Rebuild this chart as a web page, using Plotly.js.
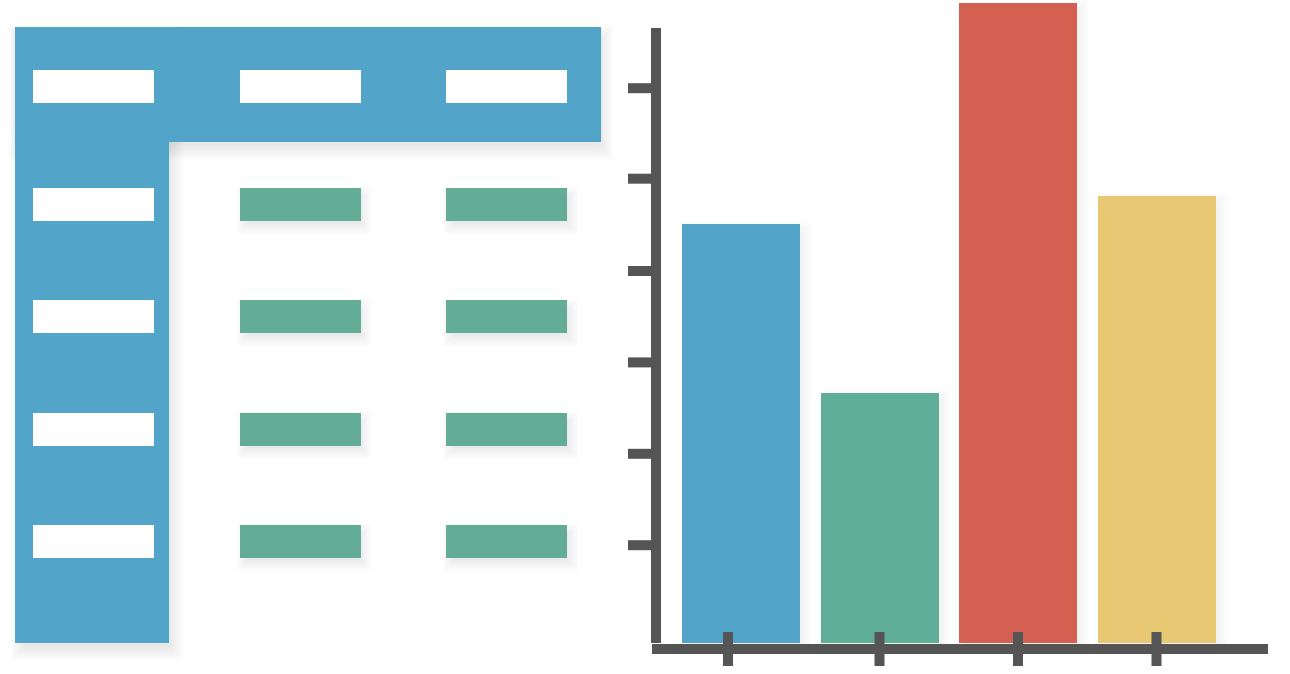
<!DOCTYPE html>
<html><head><meta charset="utf-8">
<script src="https://cdn.plot.ly/plotly-3.0.1.min.js"></script>
<style>html,body{margin:0;padding:0;background:#fff;overflow:hidden}#chart{width:1290px;height:674px}</style>
</head><body><div id="chart"></div>
<script>
// ---- bar chart data ----
const barPositions = [0, 1, 2, 3];
const barValues = [4.58, 2.74, 7.00, 4.89];
const barColors = ['#52A4C9', '#5FAE98', '#D36050', '#E8C872'];
const yTickVals = [1.07, 2.07, 3.07, 4.07, 5.08, 6.07];
const xTickVals = [-0.094, 1, 2, 3];
const yAxisTop = 6.73;

// ---- table icon data ----
const tableCols = [0, 1, 2];
const headerRow = -1.05;
const bodyRows = [0, 1, 2, 3];
const frameCols = [-0.380, 0.366, 2.458];   // left edge, left-column right edge, header right edge
const frameRows = [-1.580, -0.556, 3.904];  // top, header bottom, left-column bottom

const W = 1290, H = 674;
const BLUE = '#52A4C9', GREEN = '#63AD96', GRAY = '#555555';

// axis ranges
const xr = [-0.69314, 3.96390], yr = [-0.33917, 7.03501];
const x2r = [-0.45278, 2.67070], y2r = [4.17965, -1.82053];
const pxX  = v => 645 + (v - xr[0]) / (xr[1] - xr[0]) * 645;
const pyY  = v => H - (v - yr[0]) / (yr[1] - yr[0]) * H;
const pxX2 = v => (v - x2r[0]) / (x2r[1] - x2r[0]) * 645;
const pyY2 = v => H - (v - y2r[0]) / (y2r[1] - y2r[0]) * H;
const pX = p => p / W, pY = p => 1 - p / H;

const shapes = [];
function shadow(x0, y0, x1, y1, dx, dy, blur, alpha, n) {
  for (let i = 0; i < n; i++) {
    const e = -blur * 0.4 + blur * 1.2 * i / (n - 1);
    shapes.push({type: 'rect', layer: 'below', xref: 'paper', yref: 'paper',
      x0: pX(x0 + dx - e), x1: pX(x1 + dx + e), y0: pY(y0 + dy - e), y1: pY(y1 + dy + e),
      fillcolor: 'rgba(0,0,0,' + alpha + ')', line: {width: 0}});
  }
}
function block(c0, c1, r0, r1, color) {
  shapes.push({type: 'rect', layer: 'below', xref: 'x2', yref: 'y2',
    x0: c0, x1: c1, y0: r0, y1: r1, fillcolor: color, line: {width: 0}});
}

// header block + shadow
shadow(pxX2(frameCols[0]), pyY2(frameRows[0]), pxX2(frameCols[2]), pyY2(frameRows[1]), 3, 8, 12, 0.012, 8);
block(frameCols[0], frameCols[2], frameRows[0], frameRows[1], BLUE);
// left column + shadow
shadow(pxX2(frameCols[0]), pyY2(frameRows[0]), pxX2(frameCols[1]), pyY2(frameRows[2]), 5, 8, 12, 0.012, 8);
block(frameCols[0], frameCols[1], frameRows[0], frameRows[2], BLUE);

// cells
const cellWidth = 0.586, cellHeight = 0.294;
const whiteY = [], whiteBase = [], greenY = [], greenBase = [];
[headerRow].concat(bodyRows).forEach(r => { whiteY.push(r); whiteBase.push(tableCols[0] - cellWidth / 2); });
tableCols.slice(1).forEach(c => { whiteY.push(headerRow); whiteBase.push(c - cellWidth / 2); });
bodyRows.forEach(r => tableCols.slice(1).forEach(c => { greenY.push(r); greenBase.push(c - cellWidth / 2); }));
greenY.forEach((r, i) => {
  shadow(pxX2(greenBase[i]), pyY2(r - cellHeight / 2), pxX2(greenBase[i] + cellWidth), pyY2(r + cellHeight / 2), 4, 6, 9, 0.012, 7);
});

// bar shadows
const barWidth = 0.852;
barPositions.forEach((x, i) => {
  shadow(pxX(x - barWidth / 2), pyY(barValues[i]), pxX(x + barWidth / 2), pyY(0), 5, 4, 9, 0.008, 7);
});

// axes decorations
shapes.push({type: 'line', xref: 'paper', yref: 'y', x0: pX(656), x1: pX(656), y0: 0, y1: yAxisTop,
  line: {color: GRAY, width: 10}});
shapes.push({type: 'line', xref: 'paper', yref: 'paper', x0: pX(652), x1: pX(1268), y0: pY(649), y1: pY(649),
  line: {color: GRAY, width: 10}});
yTickVals.forEach(t => shapes.push({type: 'line', xref: 'paper', yref: 'y', x0: pX(628), x1: pX(651), y0: t, y1: t,
  line: {color: GRAY, width: 10}}));
xTickVals.forEach(t => shapes.push({type: 'line', xref: 'x', yref: 'paper', x0: t, x1: t, y0: pY(632), y1: pY(666),
  line: {color: GRAY, width: 10}}));

const traces = [
  {type: 'bar', x: barPositions, y: barValues, base: 0, width: barWidth,
   marker: {color: barColors, line: {width: 0}}, xaxis: 'x', yaxis: 'y', hoverinfo: 'skip'},
  {type: 'bar', orientation: 'h', y: whiteY, x: whiteY.map(() => cellWidth), base: whiteBase, width: cellHeight,
   marker: {color: '#FFFFFF', line: {width: 0}}, xaxis: 'x2', yaxis: 'y2', hoverinfo: 'skip'},
  {type: 'bar', orientation: 'h', y: greenY, x: greenY.map(() => cellWidth), base: greenBase, width: cellHeight,
   marker: {color: GREEN, line: {width: 0}}, xaxis: 'x2', yaxis: 'y2', hoverinfo: 'skip'}
];

const ax = {showgrid: false, zeroline: false, showticklabels: false, ticks: '', showline: false, fixedrange: true};
const layout = {
  width: W, height: H, margin: {l: 0, r: 0, t: 0, b: 0, pad: 0},
  paper_bgcolor: '#FFFFFF', plot_bgcolor: 'rgba(0,0,0,0)',
  showlegend: false, barmode: 'overlay', bargap: 0,
  xaxis: Object.assign({}, ax, {domain: [0.5, 1], range: xr, anchor: 'y'}),
  yaxis: Object.assign({}, ax, {domain: [0, 1], range: yr, anchor: 'x'}),
  xaxis2: Object.assign({}, ax, {domain: [0, 0.5], range: x2r, anchor: 'y2'}),
  yaxis2: Object.assign({}, ax, {domain: [0, 1], range: y2r, anchor: 'x2'}),
  shapes: shapes
};
Plotly.newPlot('chart', traces, layout, {staticPlot: true, displayModeBar: false});
</script></body></html>
